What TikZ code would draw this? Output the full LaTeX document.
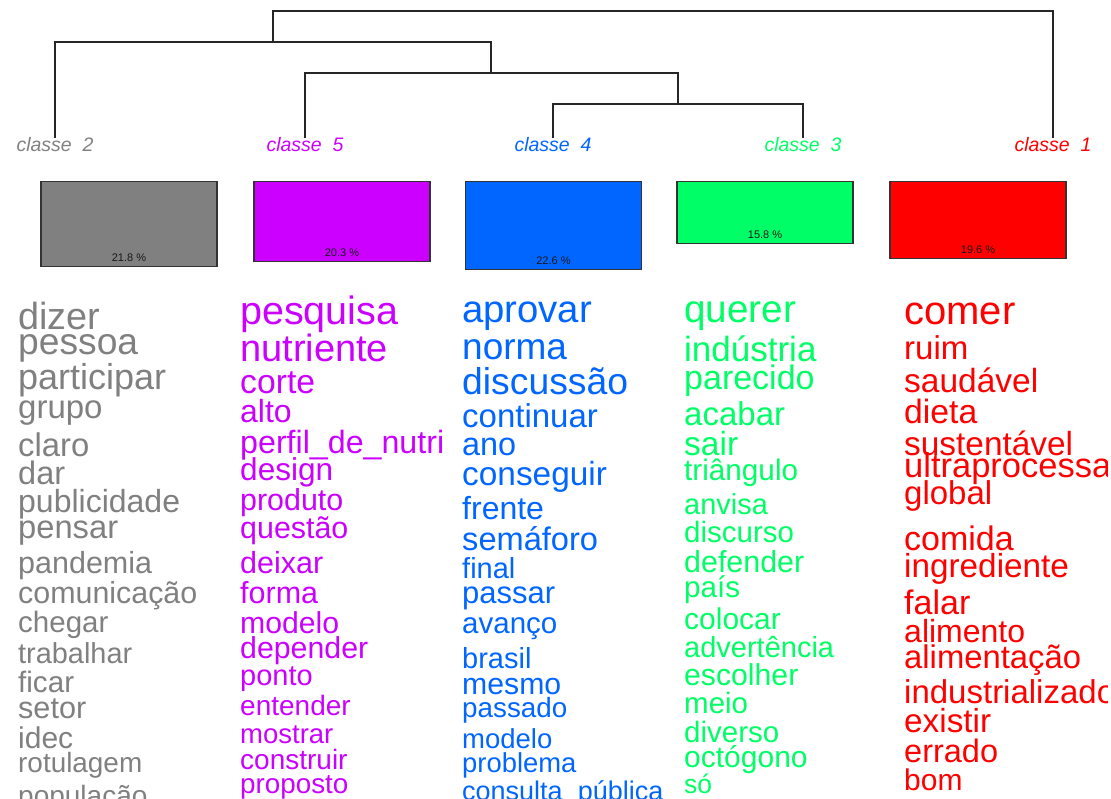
\documentclass[tikz,border=0pt]{standalone}
\usepackage{fontspec}
\setmainfont{Liberation Sans}
\usetikzlibrary{positioning}

\definecolor{cgray}{HTML}{808080}
\definecolor{cpurple}{HTML}{CC00FF}
\definecolor{cblue}{HTML}{0066FF}
\definecolor{cgreen}{HTML}{00FF66}
\definecolor{cred}{HTML}{FF0000}

\tikzset{
  tree/.style = {line width=1.7pt, draw=black!85},
  classlabel/.style = {font=\fontsize{19.5}{19.5}\selectfont\itshape, anchor=base, inner sep=0pt},
  bar/.style = {rectangle, draw=black!80, line width=1.5pt, minimum width=176pt, anchor=north, inner sep=0pt},
  pct/.style = {font=\fontsize{11}{11}\selectfont, text=black!90, inner sep=0pt},
  word/.style = {anchor=base west, inner sep=0pt}
}

\begin{document}
\begin{tikzpicture}[x=1pt, y=-1pt]

  \useasboundingbox (0,0) rectangle (1111,799);

  %% class labels
  \node (c2) [classlabel, text=cgray] at (55,152) {classe~~2};
  \node (c5) [classlabel, text=cpurple] at (305,152) {classe~~5};
  \node (c4) [classlabel, text=cblue] at (553,152) {classe~~4};
  \node (c3) [classlabel, text=cgreen] at (803,152) {classe~~3};
  \node (c1) [classlabel, text=cred] at (1053,152) {classe~~1};

  %% dendrogram
  \coordinate (j43) at (678,104);
  \coordinate (j543) at (491,73);
  \coordinate (j2543) at (273,42);
  \coordinate (root) at (663,11);
  \draw [tree] (c4.north) |- (j43) -| (c3.north);
  \draw [tree] (c5.north) |- (j543) -| (j43);
  \draw [tree] (c2.north) |- (j2543) -| (j543);
  \draw [tree] (j2543) |- (root) -| (c1.north);

  %% bars with the size of each class
  \node (b2) [bar, fill=cgray, minimum height=85pt] at (129,181) {};
  \node (b5) [bar, fill=cpurple, minimum height=80pt] at (342,181) {};
  \node (b4) [bar, fill=cblue, minimum height=88pt] at (553.5,181) {};
  \node (b3) [bar, fill=cgreen, minimum height=62pt] at (765,181) {};
  \node (b1) [bar, fill=cred, minimum height=77pt] at (978,181) {};

  \node (p2) [pct, above=6pt of b2.south] {21.8~\%};
  \node (p5) [pct, above=6pt of b5.south] {20.3~\%};
  \node (p4) [pct, above=6pt of b4.south] {22.6~\%};
  \node (p3) [pct, above=6pt of b3.south] {15.8~\%};
  \node (p1) [pct, above=6pt of b1.south] {19.6~\%};

  %% words of classe 2
  \begin{scope}[text=cgray]
    \clip (0,285) rectangle (220,799);
    \foreach \s/\y/\t [count=\i] in {37.8/330/dizer, 37.2/355/pessoa,
      36/390/participar, 33/418/grupo, 32.8/456/claro, 32.5/484/dar,
      32/512/publicidade, 32.7/538/pensar, 30.5/573/pandemia,
      30.4/603/comunicação, 29.5/632/chegar, 28.9/663/trabalhar,
      29.6/692/ficar, 30.6/718/setor, 30/748/idec, 27.9/772/rotulagem,
      28/805/população}
      \node (w2-\i) [word, font=\fontsize{\s}{\s}\selectfont] at (18,\y) {\t};
  \end{scope}

  %% words of classe 5
  \begin{scope}[text=cpurple]
    \clip (230,285) rectangle (442,799);
    \foreach \s/\y/\t [count=\i] in {39.5/325/pesquisa, 38/362/nutriente,
      33.7/393/corte, 32/422/alto, 32.2/453/perfil\_de\_nutri,
      31.6/480/design, 30.4/510/produto, 30.4/538/questão,
      30.5/573/deixar, 30.5/603/forma, 30.2/633/modelo,
      30.3/658/depender, 29/685/ponto, 28/715/entender,
      27.5/743/mostrar, 28/769/construir, 27.8/793/proposto}
      \node (w5-\i) [word, font=\fontsize{\s}{\s}\selectfont] at (240,\y) {\t};
  \end{scope}

  %% words of classe 4
  \begin{scope}[text=cblue]
    \clip (452,285) rectangle (664,799);
    \foreach \s/\y/\t [count=\i] in {38.3/323/aprovar, 37/360/norma,
      37.3/395/discussão, 33/427/continuar, 32.4/455/ano,
      33.4/485/conseguir, 32/519/frente, 32.6/550/semáforo,
      29/578/final, 31/603/passar, 29.5/633/avanço, 29/668/brasil,
      30.2/694/mesmo, 27.8/717/passado, 27.5/748/modelo,
      27.4/772/problema, 27/800/consulta\_pública}
      \node (w4-\i) [word, font=\fontsize{\s}{\s}\selectfont] at (462,\y) {\t};
  \end{scope}

  %% words of classe 3
  \begin{scope}[text=cgreen]
    \clip (674,285) rectangle (886,799);
    \foreach \s/\y/\t [count=\i] in {38.7/323/querer, 35/362/indústria,
      34/390/parecido, 33/425/acabar, 33.5/455/sair,
      29.7/480/triângulo, 29/514/anvisa, 29.5/542/discurso,
      30.4/572/defender, 29.6/597/país, 30/629/colocar,
      29/657/advertência, 30.2/685/escolher, 29.5/713/meio,
      29.5/742/diverso, 30/767/octógono, 26.5/793/só}
      \node (w3-\i) [word, font=\fontsize{\s}{\s}\selectfont] at (684,\y) {\t};
  \end{scope}

  %% words of classe 1
  \begin{scope}[text=cred]
    \clip (894,285) rectangle (1107,799);
    \foreach \s/\y/\t [count=\i] in {40/325/comer, 33/360/ruim,
      33.5/392/saudável, 33.7/423/dieta, 33.4/455/sustentável,
      34.5/477/ultraprocessa, 33/504/global, 34/550/comida,
      33.3/577/ingrediente, 34/614/falar, 32/642/alimento,
      32.8/668/alimentação, 33/703/industrializado, 33.3/732/existir,
      32.5/762/errado, 30/790/bom}
      \node (w1-\i) [word, font=\fontsize{\s}{\s}\selectfont] at (904,\y) {\t};
  \end{scope}

\end{tikzpicture}
\end{document}
